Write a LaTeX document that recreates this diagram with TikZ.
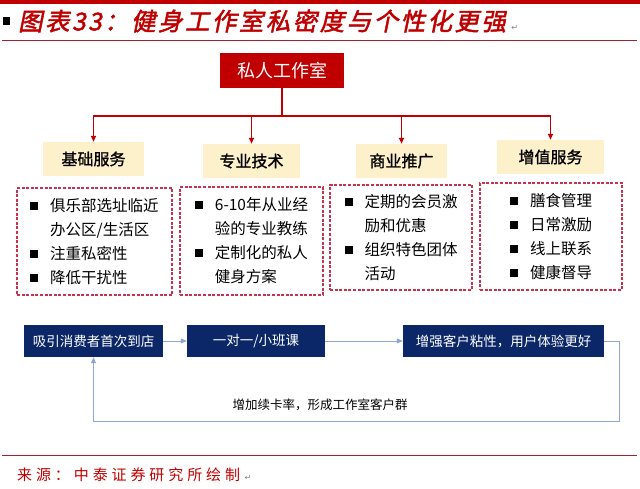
\documentclass[tikz,border=0pt]{standalone}
\usepackage{fontspec}
\setmainfont{Noto Sans CJK SC}
\newfontfamily\titlefont[FakeSlant=0.2,FakeBold=2,LetterSpace=10]{Noto Sans CJK SC}
\newfontfamily\srcfont[LetterSpace=26]{Noto Sans CJK SC}
\newfontfamily\headfont[FakeBold=1.2]{Noto Sans CJK SC}
\newfontfamily\symfont{DejaVu Sans}
\usepackage{xcolor}
\usepackage{tikz}
\usetikzlibrary{positioning, arrows.meta, calc}
\definecolor{brickred}{HTML}{C00000}
\definecolor{rulered}{HTML}{A82030}
\definecolor{dashred}{HTML}{C8324E}
\definecolor{cream}{HTML}{FDF1CB}
\definecolor{navy}{HTML}{0C2767}
\definecolor{steel}{HTML}{8EA5D6}
\newcommand{\bitem}[1]{\makebox[20pt][l]{\raisebox{1.5pt}{\rule{8pt}{8pt}}}#1}
\newcommand{\bcont}[1]{\hspace*{20pt}#1}
\tikzset{
  studio/.style={fill=brickred, text=white, minimum width=124pt, minimum height=35pt, inner sep=0pt, font=\fontsize{18}{18}\selectfont},
  cat/.style={fill=cream, minimum height=34pt, inner sep=0pt, font=\headfont\fontsize{16}{16}\selectfont},
  detail/.style={draw=dashred, line width=1.3pt, dash pattern=on 3pt off 1.6pt, inner sep=0pt, align=left, font=\fontsize{15.5}{24}\selectfont},
  flowbox/.style={fill=navy, text=white, minimum height=32pt, inner sep=0pt, font=\fontsize{13.5}{13.5}\selectfont},
  redarr/.style={draw=brickred, line width=1.4pt, -{Triangle[length=6pt,width=5pt]}},
  flow/.style={draw=steel, line width=1pt, -{Triangle[length=6pt,width=5pt]}},
  rule/.style={draw=rulered, line width=0.8pt},
  retmark/.style={anchor=base west, inner sep=0pt, text=gray, font=\symfont\fontsize{8}{8}\selectfont},
}
\begin{document}
\begin{tikzpicture}[x=1pt, y=-1pt]
  \useasboundingbox (0,0) rectangle (640,488);
  % header and footer
  \fill[brickred] (0,0) rectangle (640,4);
  \fill[black] (3,17) rectangle (10,25);
  \node[anchor=west, text=brickred, inner sep=0pt, font=\titlefont\fontsize{24.5}{24.5}\selectfont] (title) at (18,21) {图表33：健身工作室私密度与个性化更强};
  \node[retmark, xshift=5pt] at (title.base east) {↵};
  \draw[rule] (2,40) -- (637,40);
  \draw[rule] (2,455) -- (637,455);
  \node[anchor=west, text=brickred, inner sep=0pt, font=\srcfont\fontsize{15}{15}\selectfont] (src) at (17,475) {来源：中泰证券研究所绘制};
  \node[retmark, xshift=4pt] at (src.base east) {↵};

  % tree
  \node[studio] (studio) at (282,70.5) {私人工作室};
  \coordinate (hub) at (282,116);
  \node[cat, minimum width=101pt] (c1) at (93.5,159) {基础服务};
  \node[cat, minimum width=97pt] (c2) at (251.5,161) {专业技术};
  \node[cat, minimum width=91pt] (c3) at (401.5,161) {商业推广};
  \node[cat, minimum width=107pt] (c4) at (550.5,157) {增值服务};
  \foreach \c in {c1, c2, c3, c4}
    \draw[redarr] (studio.south) -- (hub) -| (\c.north);

  \node[detail, minimum width=155pt, minimum height=107pt] (d1) at (94.5,241.5)
    {\bitem{俱乐部选址临近}\\\bcont{办公区/生活区}\\\bitem{注重私密性}\\\bitem{降低干扰性}};
  \node[detail, minimum width=143pt, minimum height=108pt] (d2) at (251.5,241)
    {\bitem{6-10年从业经}\\\bcont{验的专业教练}\\\bitem{定制化的私人}\\\bcont{健身方案}};
  \node[detail, minimum width=142pt, minimum height=105pt] (d3) at (401,237.5)
    {\bitem{定期的会员激}\\\bcont{励和优惠}\\\bitem{组织特色团体}\\\bcont{活动}};
  \node[detail, minimum width=142pt, minimum height=107pt] (d4) at (551,236.5)
    {\bitem{膳食管理}\\\bitem{日常激励}\\\bitem{线上联系}\\\bitem{健康督导}};

  % customer flow
  \node[flowbox, minimum width=139pt] (b1) at (93.5,341) {吸引消费者首次到店};
  \node[flowbox, minimum width=138pt] (b2) at (256,341) {一对一/小班课};
  \node[flowbox, minimum width=201pt] (b3) at (503.5,341) {增强客户粘性，用户体验更好};
  \draw[flow] (b1) -- (b2);
  \draw[flow] (b2) -- (b3);
  \draw[flow] (b3.east) -- ++(15,0) |- ([yshift=-64pt]b1.south) -- (b1.south);
  \node[font=\fontsize{12.5}{12.5}\selectfont] (loop) at (320,405) {增加续卡率，形成工作室客户群};
\end{tikzpicture}
\end{document}
